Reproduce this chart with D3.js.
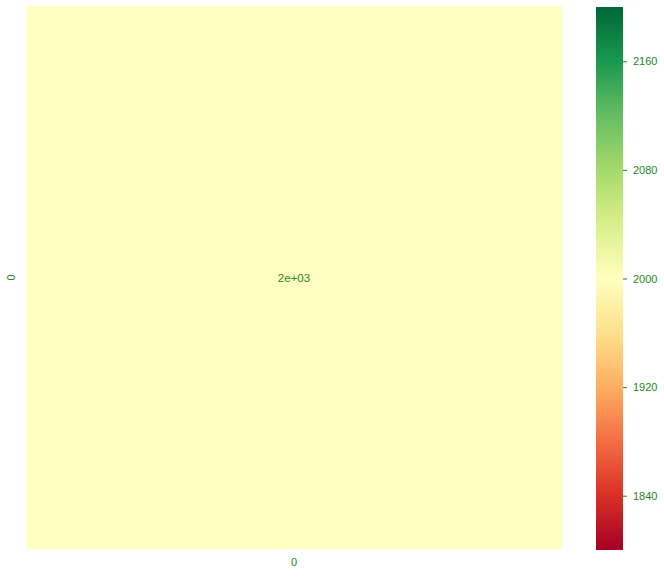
<!DOCTYPE html>
<html><head><meta charset="utf-8">
<script src="https://cdn.jsdelivr.net/npm/d3@7"></script>
<style>body{margin:0;background:#fff}svg{display:block;font-family:"Liberation Sans",Arial,sans-serif}</style>
</head><body><svg id="c" width="664" height="577"></svg>
<script>
const rows = ["0"];
const cols = ["0"];
const values = [[2000]];
const annotations = [["2e+03"]];
const colorDomain = [1800, 2200];
const colorbarTicks = [1840, 1920, 2000, 2080, 2160];
const paletteStops = ["#a50026","#d73027","#f46d43","#fdae61","#fee08b","#ffffbf","#d9ef8b","#a6d96a","#66bd63","#1a9850","#006837"];
const textColor = "#228822";

const svg = d3.select("#c");
const x = d3.scaleBand().domain(cols).range([26, 562]);
const y = d3.scaleBand().domain(rows).range([6, 549]);
const interp = d3.piecewise(d3.interpolateRgb, paletteStops);
const color = d3.scaleSequential(interp).domain(colorDomain);

const cells = [];
rows.forEach((r, i) => cols.forEach((c, j) => cells.push({r, c, v: values[i][j], a: annotations[i][j]})));

svg.selectAll("rect.cell").data(cells).join("rect").attr("class","cell")
  .attr("x", d => x(d.c)).attr("y", d => y(d.r))
  .attr("width", x.bandwidth()).attr("height", y.bandwidth())
  .attr("fill", d => color(d.v));
svg.selectAll("text.ann").data(cells).join("text").attr("class","ann")
  .attr("x", d => x(d.c) + x.bandwidth()/2).attr("y", d => y(d.r) + y.bandwidth()/2)
  .attr("text-anchor","middle").attr("dominant-baseline","central")
  .attr("font-size", 11.5).attr("fill", textColor).text(d => d.a);

// axes
const xAxis = svg.append("g").attr("transform", `translate(0,549)`).call(d3.axisBottom(x).tickSize(0).tickPadding(9));
xAxis.select(".domain").remove();
xAxis.selectAll("text").attr("fill", textColor).attr("font-size", 11).attr("font-family", "Liberation Sans, Arial, sans-serif");
const yAxis = svg.append("g").attr("transform", `translate(26,0)`).call(d3.axisLeft(y).tickSize(0).tickPadding(0));
yAxis.select(".domain").remove();
yAxis.selectAll(".tick text").attr("fill", textColor).attr("font-size", 11).attr("font-family", "Liberation Sans, Arial, sans-serif")
  .attr("x", 0).attr("dy", 0).attr("text-anchor","middle").attr("dominant-baseline","central")
  .attr("transform", "translate(-15,0) rotate(-90)");

// colorbar
const cbX = 596, cbW = 27;
const cy = d3.scaleLinear().domain(colorDomain).range([550, 7]);
const defs = svg.append("defs");
const grad = defs.append("linearGradient").attr("id","cbg").attr("x1",0).attr("y1",1).attr("x2",0).attr("y2",0);
d3.range(0, 1.0001, 0.025).forEach(t => grad.append("stop").attr("offset", t).attr("stop-color", interp(t)));
svg.append("rect").attr("x", cbX).attr("y", cy(colorDomain[1])).attr("width", cbW)
  .attr("height", cy(colorDomain[0]) - cy(colorDomain[1])).attr("fill","url(#cbg)");
const cAxis = svg.append("g").attr("transform", `translate(${cbX + cbW},0)`)
  .call(d3.axisRight(cy).tickValues(colorbarTicks).tickSize(4).tickPadding(6).tickFormat(d3.format("d")));
cAxis.select(".domain").remove();
cAxis.selectAll("line").attr("stroke", textColor);
cAxis.selectAll("text").attr("fill", textColor).attr("font-size", 11).attr("font-family", "Liberation Sans, Arial, sans-serif");
</script></body></html>
